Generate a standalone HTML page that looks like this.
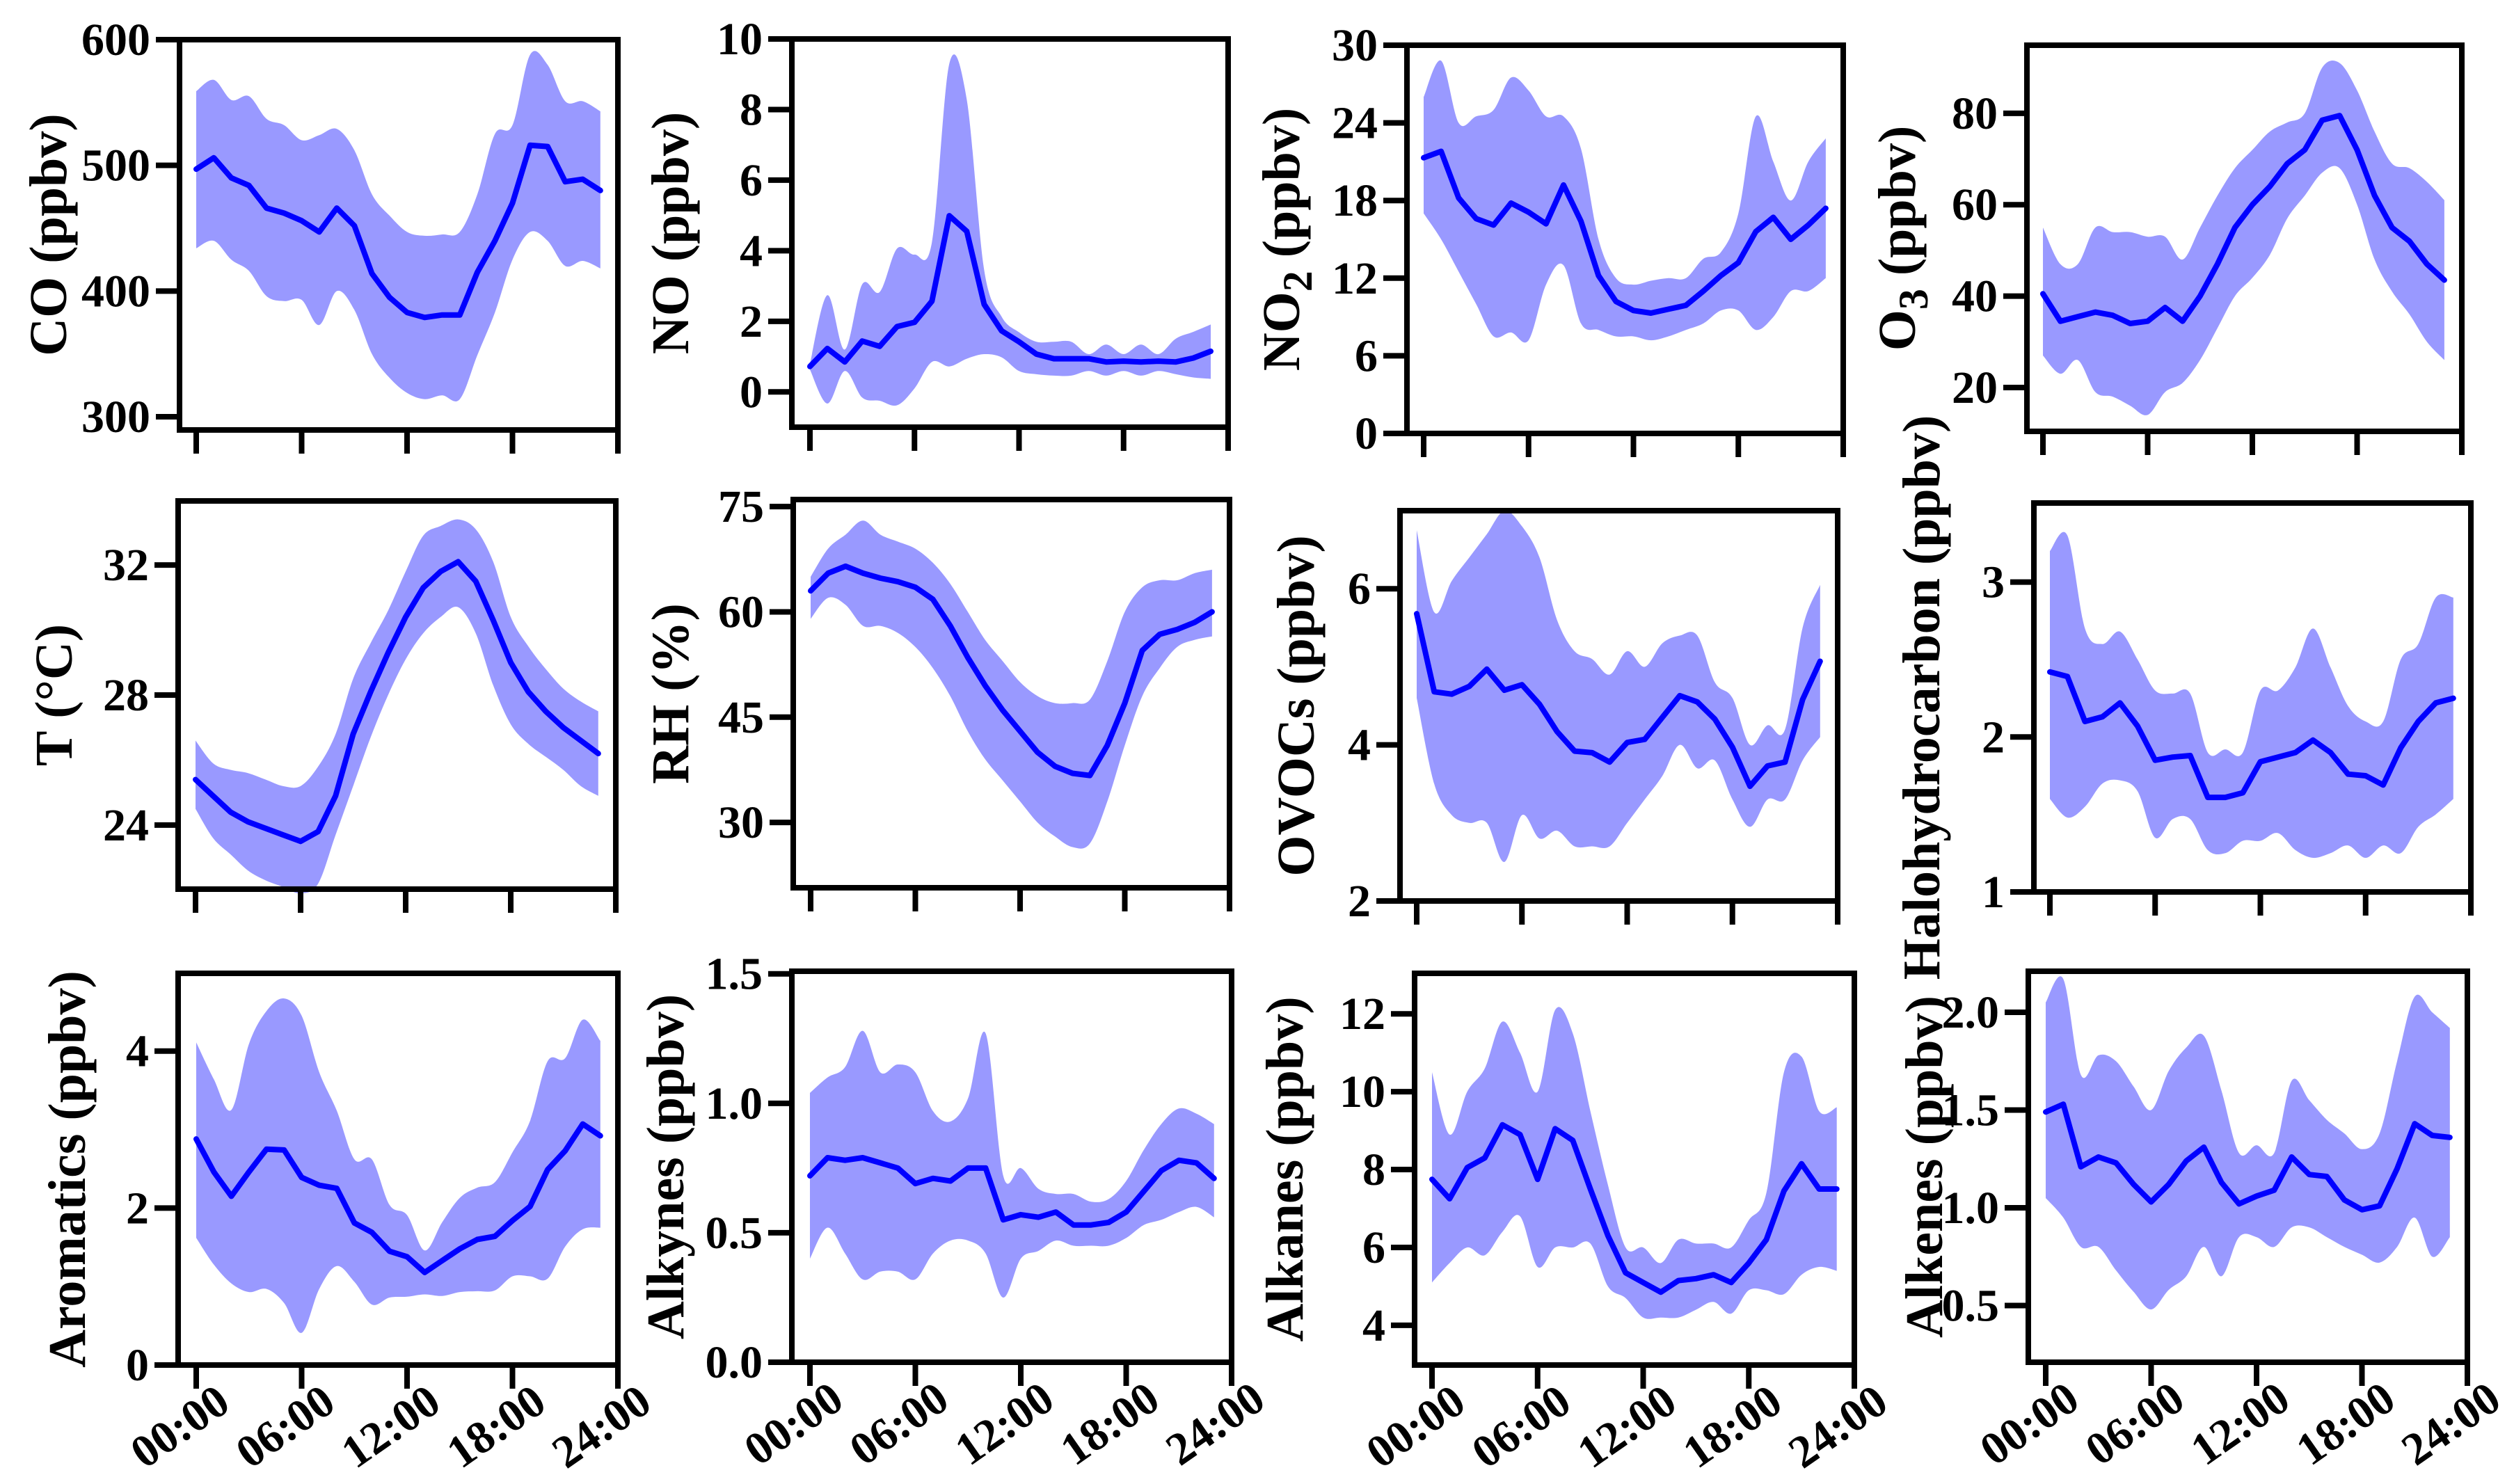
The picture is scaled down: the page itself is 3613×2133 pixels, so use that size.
<!DOCTYPE html>
<html><head><meta charset="utf-8"><style>
html,body{margin:0;padding:0;background:#fff;}
svg{display:block;font-family:"Liberation Serif",serif;font-weight:bold;}
</style></head><body>
<svg id="fig" width="3613" height="2133" viewBox="0 0 3613 2133" xmlns="http://www.w3.org/2000/svg"></svg>
<script>
const hours = [0,1,2,3,4,5,6,7,8,9,10,11,12,13,14,15,16,17,18,19,20,21,22,23];
const xTickLabels = ["00:00","06:00","12:00","18:00","24:00"];
const xTickHours = [0,6,12,18,24];

const coMean=[497,506,490,484,466,462,456,447,466,452,414,395,383,379,381,381,415,440,470,516,515,487,489,480];
const coUpper=[559,568,552,555,537,532,520,524,529,512,477,460,447,444,445,447,477,525,532,588,580,551,551,543];
const coLower=[434,440,425,416,396,392,393,373,400,385,350,331,319,314,317,314,349,383,425,447,440,420,424,418];

const noMean=[0.72,1.23,0.85,1.44,1.29,1.85,1.97,2.57,4.99,4.55,2.48,1.73,1.42,1.07,0.94,0.94,0.94,0.85,0.87,0.85,0.87,0.85,0.96,1.15];
const noUpper=[0.8,2.74,1.2,3.05,2.83,4.06,3.89,4.24,9.3,8.28,3.45,2.13,1.69,1.42,1.42,1.42,1.07,1.34,1.07,1.34,1.07,1.51,1.7,1.91];
const noLower=[0.63,-0.33,0.59,-0.16,-0.25,-0.38,0.1,0.85,0.72,0.94,1.07,0.98,0.59,0.5,0.46,0.46,0.59,0.46,0.59,0.46,0.59,0.5,0.41,0.37];

const no2Mean=[21.3,21.8,18.2,16.6,16.1,17.8,17.1,16.2,19.2,16.4,12.2,10.2,9.5,9.3,9.6,9.9,11.0,12.2,13.2,15.6,16.7,15.0,16.1,17.4];
const no2Upper=[26,28.8,24,24.5,25,27.5,26.5,24.5,24.5,22,15,12,11.5,11.8,12,12,13.5,14,17,24.5,21,18,21,22.8];
const no2Lower=[17,15,12.5,10,7.5,7.8,7.2,11.5,13,8.5,8,7.5,7.5,7.2,7.5,8,8.5,9.5,9.5,8,9,11,11,12];

const o3Mean=[40.5,34.5,35.5,36.5,35.8,34,34.5,37.5,34.5,40,47,55,60,64,69,72,78.5,79.5,72,62,55,52,47,43.5];
const o3Upper=[55,47,47,55,54,54,53,53,48,55,62,68,72,76,78,80,90,91,85,76,69,68,65,61];
const o3Lower=[27,23,26,19,18,16,14,19,21,26,33,40,44,49,57,62,67,68,60,48,41,36,30,26];

const tMean=[25.4,24.9,24.4,24.1,23.9,23.7,23.5,23.8,24.9,26.8,28.1,29.3,30.4,31.3,31.8,32.1,31.5,30.3,29.0,28.1,27.5,27.0,26.6,26.2];
const tUpper=[26.6,25.9,25.7,25.6,25.4,25.2,25.2,25.8,26.8,28.5,29.6,30.6,31.8,32.9,33.2,33.4,33.1,32.1,30.4,29.5,28.8,28.2,27.8,27.5];
const tLower=[24.5,23.6,23.1,22.6,22.3,22.1,21.9,22.2,23.7,25.2,26.7,28.0,29.1,29.9,30.4,30.7,29.9,28.3,27.1,26.5,26.1,25.7,25.2,24.9];

const rhMean=[63,65.5,66.5,65.5,64.8,64.3,63.5,61.8,58,53.5,49.5,46,43,40,38,37,36.7,41,47,54.5,56.8,57.5,58.5,60];
const rhUpper=[65,69,71,73,71,70,69,67,64,60,56,53,50,48,47,47,47.5,53,60,63.5,64.5,64.5,65.5,66];
const rhLower=[59,62,61,58,58,57,55,52,48,43,39,36,33,30,28,26.5,27,33,41,48,52,55,56,56.5];

const ovocMean=[5.68,4.68,4.65,4.75,4.97,4.70,4.77,4.52,4.17,3.92,3.9,3.78,4.03,4.07,4.35,4.63,4.55,4.33,3.97,3.47,3.73,3.78,4.58,5.07];
const ovocUpper=[6.75,5.7,6.1,6.4,6.7,7.0,6.8,6.4,5.6,5.2,5.1,4.9,5.2,5.0,5.3,5.4,5.4,4.8,4.6,4.0,4.25,4.2,5.5,6.05];
const ovocLower=[4.6,3.5,3.1,3.0,3.0,2.5,3.1,2.8,2.9,2.7,2.7,2.7,3.0,3.3,3.6,4.0,3.7,3.8,3.3,2.95,3.3,3.3,3.8,4.1];

const haloMean=[2.42,2.39,2.10,2.13,2.22,2.07,1.85,1.87,1.88,1.61,1.61,1.64,1.84,1.87,1.90,1.98,1.90,1.76,1.75,1.69,1.93,2.10,2.22,2.25];
const haloUpper=[3.2,3.3,2.7,2.6,2.68,2.5,2.3,2.28,2.28,1.9,1.92,1.9,2.3,2.3,2.45,2.7,2.45,2.2,2.1,2.1,2.5,2.6,2.9,2.9];
const haloLower=[1.6,1.48,1.55,1.7,1.72,1.65,1.35,1.47,1.47,1.27,1.25,1.33,1.33,1.38,1.27,1.22,1.25,1.3,1.22,1.3,1.25,1.42,1.5,1.6];

const aroMean=[2.88,2.46,2.15,2.46,2.75,2.74,2.39,2.29,2.25,1.81,1.69,1.45,1.38,1.18,1.33,1.48,1.60,1.64,1.84,2.02,2.49,2.73,3.07,2.92];
const aroUpper=[4.11,3.64,3.25,4.09,4.51,4.67,4.45,3.73,3.24,2.62,2.62,2.04,1.91,1.46,1.82,2.13,2.26,2.33,2.71,3.11,3.87,3.91,4.40,4.13];
const aroLower=[1.62,1.28,1.04,0.93,0.97,0.79,0.41,0.97,1.26,1.06,0.77,0.86,0.87,0.90,0.88,0.93,0.94,0.95,1.13,1.13,1.10,1.51,1.73,1.75];

const alkyMean=[0.72,0.79,0.78,0.79,0.77,0.75,0.69,0.71,0.70,0.75,0.75,0.55,0.57,0.56,0.58,0.53,0.53,0.54,0.58,0.66,0.74,0.78,0.77,0.71];
const alkyUpper=[1.04,1.10,1.14,1.28,1.12,1.15,1.12,0.97,0.93,1.02,1.27,0.72,0.75,0.67,0.65,0.65,0.62,0.63,0.70,0.82,0.92,0.98,0.96,0.92];
const alkyLower=[0.40,0.52,0.42,0.32,0.35,0.35,0.32,0.42,0.47,0.47,0.42,0.25,0.40,0.43,0.47,0.45,0.45,0.45,0.48,0.53,0.55,0.58,0.60,0.56];

const alkaMean=[7.75,7.25,8.05,8.3,9.15,8.9,7.75,9.05,8.75,7.5,6.3,5.35,5.1,4.85,5.15,5.2,5.3,5.1,5.6,6.2,7.45,8.15,7.5,7.5];
const alkaUpper=[10.5,8.9,10.0,10.6,11.8,11.0,10.0,12.1,11.5,9.5,7.6,6.0,6.0,5.6,6.2,6.1,6.1,6.0,6.7,7.4,10.5,10.9,9.5,9.6];
const alkaLower=[5.1,5.6,6.0,5.8,6.4,6.8,5.5,6.0,6.0,6.1,5.0,4.7,4.2,4.2,4.2,4.4,4.6,4.3,4.9,4.9,4.8,5.3,5.5,5.4];

const alkeMean=[1.49,1.53,1.21,1.26,1.23,1.12,1.03,1.12,1.24,1.31,1.13,1.02,1.06,1.09,1.26,1.17,1.16,1.04,0.99,1.01,1.20,1.43,1.37,1.36];
const alkeUpper=[2.05,2.17,1.68,1.78,1.75,1.62,1.50,1.70,1.82,1.88,1.60,1.28,1.32,1.28,1.65,1.55,1.45,1.38,1.30,1.38,1.75,2.08,2.0,1.92];
const alkeLower=[1.05,0.95,0.80,0.80,0.68,0.57,0.48,0.58,0.65,0.80,0.65,0.85,0.85,0.80,0.90,0.90,0.85,0.80,0.76,0.72,0.80,0.95,0.75,0.85];

const coTicks=[300,400,500,600];
const noTicks=[0,2,4,6,8,10];
const no2Ticks=[0,6,12,18,24,30];
const o3Ticks=[20,40,60,80];
const tTicks=[24,28,32];
const rhTicks=[30,45,60,75];
const ovocTicks=[2,4,6];
const haloTicks=[1,2,3];
const aroTicks=[0,2,4];
const alkyTicks=[0,0.5,1.0,1.5];
const alkaTicks=[4,6,8,10,12];
const alkeTicks=[0.5,1.0,1.5,2.0];

const NS="http://www.w3.org/2000/svg";
const svg=document.getElementById('fig');
function mk(tag,attrs,parent){const e=document.createElementNS(NS,tag);for(const k in attrs)e.setAttribute(k,attrs[k]);(parent||svg).appendChild(e);return e;}

function smoothPath(pts){
  let d="";
  for(let i=0;i<pts.length;i++){
    if(i===0){d+="M"+pts[0][0].toFixed(1)+","+pts[0][1].toFixed(1);continue;}
    const p0=pts[Math.max(i-2,0)],p1=pts[i-1],p2=pts[i],p3=pts[Math.min(i+1,pts.length-1)];
    const c1=[p1[0]+(p2[0]-p0[0])/6,p1[1]+(p2[1]-p0[1])/6];
    const c2=[p2[0]-(p3[0]-p1[0])/6,p2[1]-(p3[1]-p1[1])/6];
    d+="C"+c1[0].toFixed(1)+","+c1[1].toFixed(1)+" "+c2[0].toFixed(1)+","+c2[1].toFixed(1)+" "+p2[0].toFixed(1)+","+p2[1].toFixed(1);
  }
  return d;
}

function panel(c){
  const g=mk('g',{});
  
  
  const xs=h=>c.x0+(c.R-c.x0)*h/24;
  const ys=v=>c.B-(v-c.ymin)/(c.ymax-c.ymin)*(c.B-c.T);
  // band
  const up=hours.map((h,i)=>[xs(h),ys(c.upper[i])]);
  const lo=hours.map((h,i)=>[xs(h),ys(c.lower[i])]).reverse();
  let d=smoothPath(up);
  d+="L"+lo[0][0].toFixed(1)+","+lo[0][1].toFixed(1)+smoothPath(lo).replace(/^M[^C]*/,"")+"Z";
  const band=mk('path',{d:d,fill:'#9999ff',stroke:'none'},g);
  
  
  // mean line
  const line=mk('polyline',{points:hours.map((h,i)=>xs(h).toFixed(1)+","+ys(c.mean[i]).toFixed(1)).join(" "),fill:'none',stroke:'#0000ff','stroke-width':8,'stroke-linejoin':'round','stroke-linecap':'round'},g);
  
  
  // frame
  const fr=mk('rect',{x:c.L,y:c.T,width:c.R-c.L,height:c.B-c.T,fill:'none',stroke:'#000','stroke-width':8},g);
  
  
  // y ticks
  c.ticks.forEach((v,i)=>{
    const y=ys(v);
    const t=mk('line',{x1:c.L-34,x2:c.L,y1:y,y2:y,stroke:'#000','stroke-width':8},g);
    
    
    const lb=mk('text',{x:c.L-42,y:y+22,'text-anchor':'end','font-size':66},g);
    lb.textContent=c.tickText?c.tickText[i]:String(v);
    
    
  });
  // x ticks
  xTickHours.forEach((h,i)=>{
    const x=xs(h);
    const t=mk('line',{x1:x,x2:x,y1:c.B,y2:c.B+34,stroke:'#000','stroke-width':8},g);
    
    
    if(c.xlabels){
      const lb=mk('text',{x:0,y:0,'text-anchor':'end','font-size':66,transform:'translate('+(x+52)+','+(c.B+62)+') rotate(-35)'},g);
      lb.textContent=xTickLabels[i];
      
      
    }
  });
  // title
  const cy=(c.T+c.B)/2;
  const tt=mk('text',{x:0,y:0,'text-anchor':'middle','font-size':76,transform:'translate('+(c.tx+26)+','+cy+') rotate(-90)'},g);
  
  
  if(c.sub){
    const a=mk('tspan',{},tt);a.textContent=c.title;
    const s=mk('tspan',{dy:18,'font-size':60},tt);s.textContent=c.sub;
    const b=mk('tspan',{dy:-18},tt);b.textContent=c.title2;
  } else tt.textContent=c.title;
}

panel({name:'co',L:258,x0:282,R:888,T:57,B:618,ymin:289.5,ymax:600,ticks:coTicks,mean:coMean,upper:coUpper,lower:coLower,title:'CO (ppbv)',tx:69});
panel({name:'no',L:1138,x0:1164,R:1765,T:56,B:614,ymin:-1.0,ymax:10,ticks:noTicks,mean:noMean,upper:noUpper,lower:noLower,title:'NO (ppbv)',tx:963});
panel({name:'no2',L:2022,x0:2046,R:2649,T:65,B:623,ymin:0,ymax:30,ticks:no2Ticks,mean:no2Mean,upper:no2Upper,lower:no2Lower,title:'NO',sub:'2',title2:' (ppbv)',tx:1841});
panel({name:'o3',L:2913,x0:2936,R:3538,T:65,B:620,ymin:10.4,ymax:94.9,ticks:o3Ticks,mean:o3Mean,upper:o3Upper,lower:o3Lower,title:'O',sub:'3',title2:' (ppbv)',tx:2726});
panel({name:'temperature',L:256,x0:281,R:885,T:720,B:1278,ymin:22.03,ymax:33.97,ticks:tTicks,mean:tMean,upper:tUpper,lower:tLower,title:'T (°C)',tx:77});
panel({name:'rh',L:1140,x0:1165,R:1767,T:718,B:1276,ymin:20.7,ymax:76.0,ticks:rhTicks,mean:rhMean,upper:rhUpper,lower:rhLower,title:'RH (%)',tx:963});
panel({name:'ovocs',L:2012,x0:2036,R:2641,T:734,B:1295,ymin:2,ymax:7,ticks:ovocTicks,mean:ovocMean,upper:ovocUpper,lower:ovocLower,title:'OVOCs (ppbv)',tx:1862});
panel({name:'halohydrocarbon',L:2923,x0:2946,R:3551,T:723,B:1282,ymin:1,ymax:3.51,ticks:haloTicks,mean:haloMean,upper:haloUpper,lower:haloLower,title:'Halohydrocarbon (ppbv)',tx:2761});
panel({name:'aromatics',L:256,x0:282,R:888,T:1399,B:1962,ymin:0,ymax:4.99,ticks:aroTicks,mean:aroMean,upper:aroUpper,lower:aroLower,title:'Aromatics (ppbv)',tx:96,xlabels:true});
panel({name:'alkynes',L:1138,x0:1164,R:1770,T:1396,B:1958,ymin:0,ymax:1.51,ticks:alkyTicks,tickText:['0.0','0.5','1.0','1.5'],mean:alkyMean,upper:alkyUpper,lower:alkyLower,title:'Alkynes (ppbv)',tx:956,xlabels:true});
panel({name:'alkanes',L:2033,x0:2058,R:2665,T:1399,B:1962,ymin:2.98,ymax:13.04,ticks:alkaTicks,mean:alkaMean,upper:alkaUpper,lower:alkaLower,title:'Alkanes (ppbv)',tx:1846,xlabels:true});
panel({name:'alkenes',L:2915,x0:2940,R:3546,T:1396,B:1958,ymin:0.21,ymax:2.21,ticks:alkeTicks,tickText:['0.5','1.0','1.5','2.0'],mean:alkeMean,upper:alkeUpper,lower:alkeLower,title:'Alkenes (ppbv)',tx:2765,xlabels:true});
</script>
</body></html>
